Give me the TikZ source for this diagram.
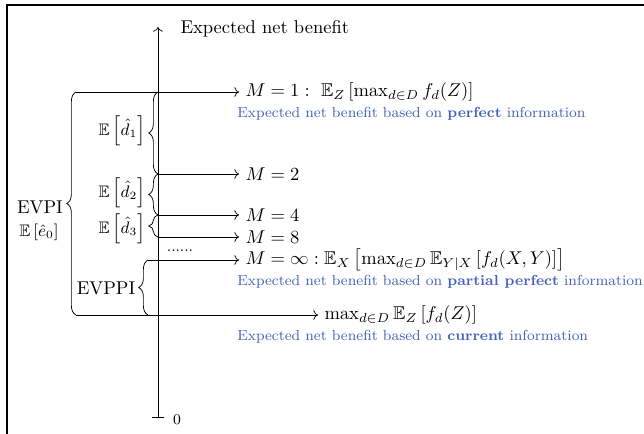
\documentclass[tikz,border=0pt]{standalone}
\usepackage{xcolor}
\usepackage{amsmath,amssymb}
\usepackage{tikz}
\usetikzlibrary{calc,positioning,arrows.meta,decorations.pathreplacing}
\definecolor{infoblue}{RGB}{68,98,188}

\begin{document}
\begin{tikzpicture}[x=0.54pt, y=0.54pt,
        curly/.style={decorate, decoration={brace, amplitude=5pt}},
        mlabel/.style={anchor=west},
        infotext/.style={anchor=west, text=infoblue, font=\fontsize{7.85}{9.5}\selectfont, inner xsep=0pt},
        sidelabel/.style={font=\small, inner sep=1pt},
      ]
      \useasboundingbox (0,0) rectangle (644,434);
      \draw[line width=1.1pt] (7,-10) -- (7,429) -- (660,429);

      % vertical axis
      \coordinate (orig) at (158,16);
      \coordinate (ytop) at (158,407);
      \draw[{Bar[width=6.5pt]}->] (orig) -- (ytop);
      \node[anchor=west] (ylab) at (174,405) {Expected net benefit};
      \node[font=\footnotesize] (zero) at (177,14) {$0$};

      % levels on the axis
      \coordinate (evpitop) at (76,342);
      \coordinate (evpibot) at (76,119);
      \coordinate (m1ax) at (158,342);
      \coordinate (m2ax) at (158,260);
      \coordinate (m4ax) at (158,219);
      \coordinate (m8ax) at (158,197);
      \coordinate (evppitop) at (148,174);
      \coordinate (evppibot) at (148,119);

      \node[mlabel] (m1) at (239,342) {$M=1:\ \mathbb{E}_Z\left[\max_{d\in D} f_d(Z)\right]$};
      \node[infotext] (perf) at (237,320) {Expected net benefit based on \textbf{perfect} information};
      \node[mlabel] (m2) at (239,260) {$M=2$};
      \node[mlabel] (m4) at (239,219) {$M=4$};
      \node[mlabel] (m8) at (239,197) {$M=8$};
      \node[mlabel] (minf) at (239,174) {$M=\infty:\mathbb{E}_X\left[\max_{d\in D}\mathbb{E}_{Y|X}\left[f_d(X,Y)\right]\right]$};
      \node[infotext] (part) at (237,152) {Expected net benefit based on \textbf{partial perfect} information};
      \node[mlabel] (cur) at (318,119) {$\max_{d\in D}\mathbb{E}_Z\left[f_d(Z)\right]$};
      \node[infotext] (curinfo) at (237,97) {Expected net benefit based on \textbf{current} information};
      \node[font=\footnotesize] (dots) at (180,183) {......};

      \draw[->] (evpitop) -- (m1.west);
      \draw[->] (m2ax) -- (m2.west);
      \draw[->] (m4ax) -- (m4.west);
      \draw[->] (m8ax) -- (m8.west);
      \draw[->] (evppitop) -- (minf.west);
      \draw[->] (evpibot) -- (cur.west);

      % braces
      \draw[curly] (evpibot) -- (evpitop);
      \draw[curly] (m2ax) -- (m1ax);
      \draw[curly] (m4ax) -- (m2ax);
      \draw[curly] (m8ax) -- (m4ax);
      \draw[curly] (evppibot) -- (evppitop);

      \node (evpi) at (40,227) {EVPI};
      \node[sidelabel] (e0) at (39,202) {$\mathbb{E}\left[\hat{e}_0\right]$};
      \node[sidelabel] (d1) at (122,303) {$\mathbb{E}\left[\hat{d}_1\right]$};
      \node[sidelabel] (d2) at (122,241) {$\mathbb{E}\left[\hat{d}_2\right]$};
      \node[sidelabel] (d3) at (122,205) {$\mathbb{E}\left[\hat{d}_3\right]$};
      \node (evppi) at (106,146) {EVPPI};
\end{tikzpicture}
\end{document}
